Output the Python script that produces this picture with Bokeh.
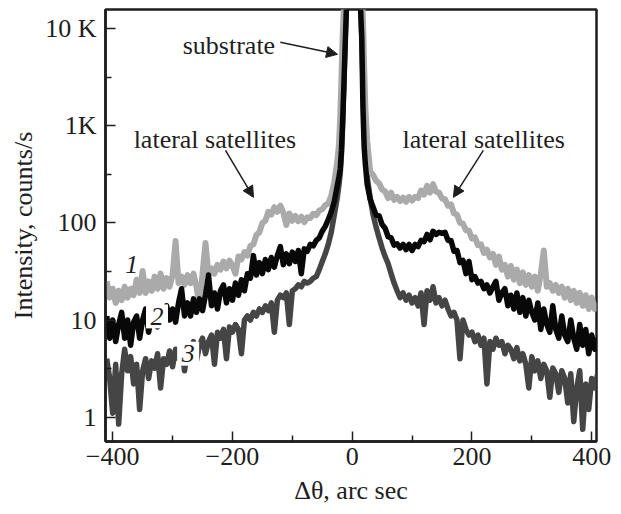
from bokeh.plotting import figure
from bokeh.models import Range1d, FixedTicker, Label, Arrow, NormalHead
from bokeh.embed import file_html
from bokeh.resources import INLINE

# ---- data ----
theta_left = [-410, -405, -400, -395, -390, -385, -380, -375, -370, -365, -360, -355,
              -350, -345, -340, -335, -330, -325, -320, -315, -310, -305, -300, -295,
              -290, -285, -280, -275, -270, -265, -260, -255, -250, -245, -240, -235,
              -230, -225, -220, -215, -210, -205, -200, -195, -190, -185, -180, -175,
              -170, -165, -160, -155, -150, -145, -140, -135, -130, -125, -120, -115,
              -110, -105, -100, -95, -90, -85, -80, -75, -70, -65, -60, -55, -50, -45,
              -40, -35]
theta_center = [-30, -25, -22, -20, -18, -16, -14, -12, -10, 0, 12, 14, 16, 18, 20, 22, 25, 30]
theta_right = [35, 40, 45, 50, 55, 60, 65, 70, 75, 80, 85, 90, 95, 100, 105, 110, 115,
               120, 125, 130, 135, 140, 145, 150, 155, 160, 165, 170, 175, 180, 185, 190,
               195, 200, 205, 210, 215, 220, 225, 230, 235, 240, 245, 250, 255, 260, 265,
               270, 275, 280, 285, 290, 295, 300, 305, 310, 315, 320, 325, 330, 335, 340,
               345, 350, 355, 360, 365, 370, 375, 380, 385, 390, 395, 400, 405, 410]

# curve 1 (light grey)
c1_left = [25, 17, 21, 15, 20, 16, 22, 17, 21, 18, 26, 19,
           32, 19, 25, 20, 28, 21, 30, 21, 27, 22, 29, 65,
           24, 28, 23, 29, 24, 30, 22, 14, 30, 62, 29, 34,
           30, 37, 33, 40, 34, 41, 36, 30, 45, 42, 50, 46,
           58, 60, 75, 80, 100, 105, 130, 122, 145, 130, 150, 128,
           95, 125, 105, 118, 104, 116, 102, 114, 112, 124, 120, 134, 138, 152,
           158, 190]
c1_center = [260, 420, 650, 1200, 3000, 8000, 16000, 40000, 1e5, 1e6,
             1e5, 50000, 25000, 12000, 4000, 1500, 700, 340]
c1_right = [310, 270, 255, 220, 210, 180, 205, 172, 185, 168, 182, 165, 185, 170, 185, 180, 215,
            195, 240, 205, 250, 210, 205, 178, 175, 150, 155, 125, 122, 100, 98, 84,
            83, 69, 71, 59, 60, 49, 53, 44, 48, 37, 45, 33, 37, 28, 36,
            26, 33, 24, 31, 23, 29, 22, 28, 20, 30, 52, 22, 24, 20, 23,
            19, 22, 17, 21, 16, 20, 15, 19, 14, 18, 13, 17, 13, 15]

# curve 2 (black)
c2_left = [11, 6.5, 10, 6, 9, 12, 6.5, 10, 5.5, 9.5, 11, 6.5,
           10, 13, 7.5, 11, 12.5, 8.5, 13, 9.5, 14, 10, 13, 9.5,
           15, 21, 11, 15, 11, 16.5, 12, 16.5, 12.5, 18, 29, 14,
           19, 13, 20, 23, 15, 21, 16, 24, 18, 26, 20, 30,
           27, 46, 29, 39, 30, 42, 33, 44, 35, 46, 57, 37,
           48, 38, 50, 40, 52, 30, 54, 51, 60, 58, 66, 70, 82, 92,
           108, 130]
c2_center = [165, 240, 300, 360, 550, 1100, 2500, 6000, 14000, 1e6,
             50000, 16000, 8000, 1500, 600, 400, 250, 175]
c2_right = [145, 120, 118, 96, 88, 72, 70, 59, 61, 55, 60, 53, 60, 52, 60, 57, 66,
            64, 76, 67, 82, 76, 80, 78, 80, 66, 66, 51, 52, 39, 41, 30,
            40, 26, 28, 24, 25, 21, 23, 19, 22, 25, 16, 19, 21, 14, 18,
            13, 19, 12, 17, 11, 16, 12, 10, 15, 8, 13, 9, 7.5, 14, 8,
            6.5, 11, 7, 6, 10, 6.5, 5, 9, 5.5, 8, 4.5, 7, 5, 6.5]

# curve 3 (dark grey)
c3_left = [4.0, 2.5, 1.1, 3.5, 0.85, 2.8, 5.0, 3.0, 4.2, 2.2, 3.5, 1.2,
           3.0, 4.0, 2.5, 3.8, 3.2, 4.5, 2.0, 4.0, 3.5, 4.8, 3.3, 5.0,
           4.0, 5.5, 3.0, 5.0, 4.5, 6.0, 3.8, 5.5, 6.5, 4.5, 6.0, 7.0,
           3.5, 7.5, 6.5, 8.0, 4.0, 8.5, 7.5, 9.0, 8.0, 4.5, 10, 11,
           10, 12, 11, 13, 12, 14, 12.5, 15, 7.5, 16, 18, 17,
           19, 9, 20, 21, 23, 22, 25, 24, 25, 27, 28, 33, 40, 48,
           60, 80]
c3_center = [120, 180, 250, 320, 500, 1000, 2500, 7000, 16000, 1e6,
             40000, 20000, 8000, 3000, 1000, 500, 300, 180]
c3_right = [120, 90, 70, 55, 45, 38, 30, 24, 20, 17, 19, 16, 18, 15, 17, 14, 19,
            9, 20, 16, 22, 15, 17, 14, 16, 13, 11, 12, 10, 4, 10, 8,
            7, 7.5, 6, 7, 5.5, 6.5, 2.2, 6, 5, 6.5, 5.5, 6, 4.5, 5.5, 5,
            4, 5.2, 3.8, 4.5, 3.5, 2.0, 4.2, 3.0, 3.8, 2.5, 3.5, 3.0, 1.6, 3.2, 2.8,
            1.8, 3.0, 2.5, 1.4, 2.8, 0.9, 2.0, 3.0, 0.75, 2.2, 1.2, 2.5, 2.0, 2.8]

x_ticks = [-400, -200, 0, 200, 400]
x_minor = [-300, -100, 100, 300]
y_ticks = [1, 10, 100, 1000, 10000]
y_minor = [3.162, 31.62, 316.2, 3162]
y_tick_labels = {1: "1", 10: "10", 100: "100", 1000: "1K", 10000: "10 K"}
x_tick_labels = {-400: "\u2212400", -200: "\u2212200", 0: "0", 200: "200", 400: "400"}

theta = theta_left + theta_center + theta_right
curve1 = c1_left + c1_center + c1_right
curve2 = c2_left + c2_center + c2_right
curve3 = c3_left + c3_center + c3_right

FONT = "Liberation Serif"
INK = "#1e1e1e"

p = figure(width=621, height=514, x_range=Range1d(-412, 408), y_range=Range1d(0.562, 15700),
           y_axis_type="log", output_backend="svg", toolbar_location=None,
           min_border_left=105, min_border_right=25, min_border_top=9, min_border_bottom=73,
           background_fill_color="white", border_fill_color="white")
p.grid.visible = False
p.outline_line_color = INK
p.outline_line_width = 2.5

p.line(theta, curve3, line_color="#454545", line_width=5.5, line_join="round")
p.line(theta, curve1, line_color="#aaaaaa", line_width=6, line_join="round")
p.line(theta, curve2, line_color="#080808", line_width=5.5, line_join="round")

p.xaxis.ticker = FixedTicker(ticks=x_ticks, minor_ticks=x_minor)
p.yaxis.ticker = FixedTicker(ticks=y_ticks, minor_ticks=y_minor)
p.xaxis.major_label_overrides = x_tick_labels
p.yaxis.major_label_overrides = y_tick_labels
for ax in (p.xaxis[0], p.yaxis[0]):
    ax.axis_line_color = INK
    ax.axis_line_width = 2.5
    ax.major_tick_line_color = INK
    ax.minor_tick_line_color = INK
    ax.major_tick_line_width = 1.5
    ax.minor_tick_line_width = 1.5
    ax.major_tick_in = 10
    ax.major_tick_out = 0
    ax.minor_tick_in = 6
    ax.minor_tick_out = 0
    ax.major_label_text_font = FONT
    ax.major_label_text_font_size = "26px"
    ax.major_label_text_color = INK
    ax.axis_label_text_font = FONT
    ax.axis_label_text_font_size = "26px"
    ax.axis_label_text_font_style = "normal"
    ax.axis_label_text_color = INK

p.xaxis.axis_label = "\u0394\u03b8, arc sec"
p.yaxis.axis_label = "Intensity, counts/s"
p.yaxis.major_label_standoff = 9
p.xaxis.major_label_standoff = 6
p.yaxis.axis_label_standoff = 4
p.xaxis.axis_label_standoff = 8

# white boxes behind the curve numbers 2 and 3
box_x = [-326, -274]
box_y = [10.9, 4.5]
p.rect(x=box_x, y=box_y, width=22, height=24, width_units="screen", height_units="screen",
       fill_color="white", line_color=None, level="annotation")

def label(x, y, text, **kw):
    opts = dict(text_font=FONT, text_font_size="26px", text_color=INK)
    opts.update(kw)
    p.add_layout(Label(x=x, y=y, text=text, **opts))

label(-283, 6730, "substrate", text_align="left", text_baseline="alphabetic")
label(-365, 724, "lateral satellites", text_align="left", text_baseline="alphabetic")
label(84, 724, "lateral satellites", text_align="left", text_baseline="alphabetic")
label(-368, 37, "1", text_align="center", text_baseline="middle", text_font_style="italic")
label(-326, 10.9, "2", text_align="center", text_baseline="middle", text_font_style="italic")
label(-274, 4.5, "3", text_align="center", text_baseline="middle", text_font_style="italic")

def arrow(x0, y0, x1, y1):
    p.add_layout(Arrow(end=NormalHead(size=11, fill_color=INK, line_color=INK, line_width=1),
                       x_start=x0, y_start=y0, x_end=x1, y_end=y1,
                       line_color=INK, line_width=1.5))

arrow(-120, 7230, -24.5, 5430)
arrow(-211.6, 558, -164.8, 183)
arrow(219, 558, 169, 183)

open("out.html", "w").write(file_html(p, INLINE))
